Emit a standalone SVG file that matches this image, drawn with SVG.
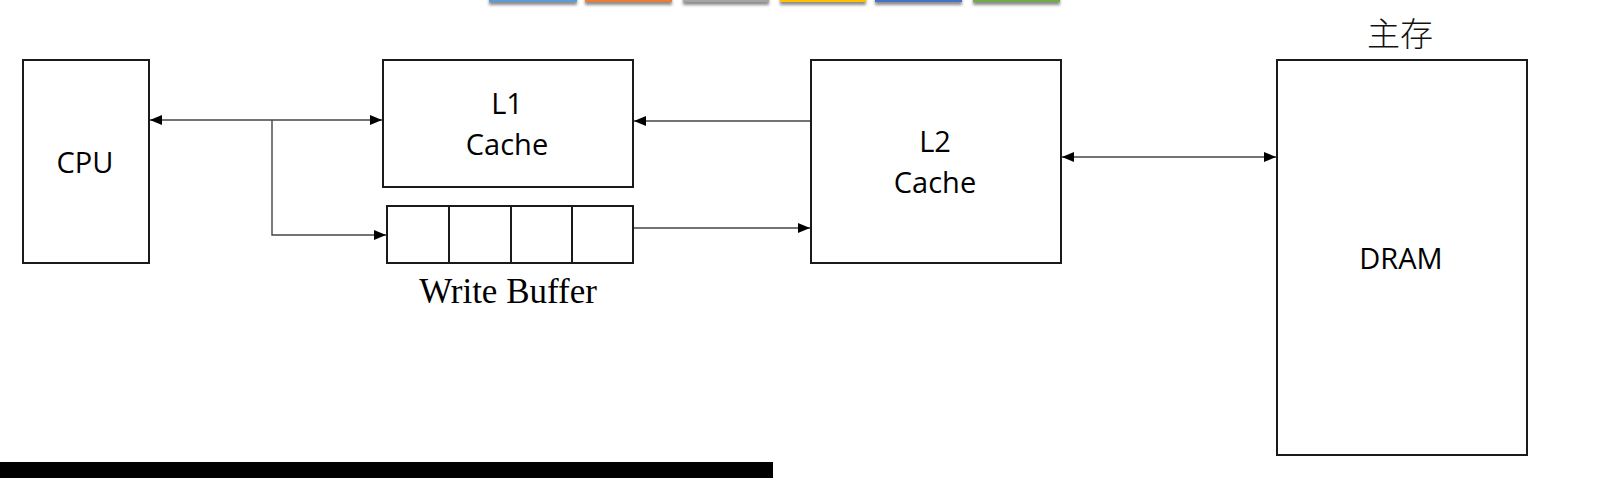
<svg xmlns="http://www.w3.org/2000/svg" width="1617" height="478" viewBox="0 0 1617 478">
  <style>
    .box { fill: #ffffff; stroke: #1a1a1a; stroke-width: 2; }
    .lbl { font-family: "Open Sans", "Liberation Sans", sans-serif; font-size: 29px; font-weight: 500; fill: #000; text-anchor: middle; }
    .wb { font-family: "Liberation Serif", serif; font-size: 35px; fill: #000; text-anchor: middle; }
    .cjk { font-family: "Noto Sans CJK SC", sans-serif; font-size: 33px; font-weight: 300; fill: #111; text-anchor: middle; }
    .conn { fill: none; stroke: #444; stroke-width: 1.4; }
  </style>
  <defs>
    <marker id="arr" viewBox="0 0 12 10" refX="12" refY="5" markerWidth="12" markerHeight="10" markerUnits="userSpaceOnUse" orient="auto-start-reverse">
      <path d="M0,0 L12,5 L0,10 z" fill="#000"/>
    </marker>
    <filter id="sh" x="-10%" y="-50%" width="120%" height="400%">
      <feGaussianBlur in="SourceAlpha" stdDeviation="1.5"/>
      <feOffset dy="2.5" result="b"/>
      <feFlood flood-color="#000" flood-opacity="0.45"/>
      <feComposite in2="b" operator="in"/>
      <feMerge><feMergeNode/><feMergeNode in="SourceGraphic"/></feMerge>
    </filter>
  </defs>
  <rect width="1617" height="478" fill="#ffffff"/>

  <g id="tabs" filter="url(#sh)">
    <rect x="489" y="-4" width="88" height="6" fill="#5B9BD5"/>
    <rect x="585" y="-4" width="87" height="6" fill="#ED7D31"/>
    <rect x="683" y="-4" width="86" height="6" fill="#A5A5A5"/>
    <rect x="780" y="-4" width="86" height="6" fill="#FFC000"/>
    <rect x="875" y="-4" width="87" height="6" fill="#4472C4"/>
    <rect x="973" y="-4" width="87" height="6" fill="#70AD47"/>
  </g>

  <g id="cpu">
    <rect class="box" x="23" y="60" width="126" height="203"/>
    <text class="lbl" x="85" y="173">CPU</text>
  </g>

  <g id="l1">
    <rect class="box" x="383" y="60" width="250" height="127"/>
    <text class="lbl" x="507" y="114">L1</text>
    <text class="lbl" x="507" y="155">Cache</text>
  </g>

  <g id="writebuffer">
    <rect class="box" x="387" y="206" width="246" height="57"/>
    <line x1="449" y1="206" x2="449" y2="263" stroke="#1a1a1a" stroke-width="2"/>
    <line x1="511" y1="206" x2="511" y2="263" stroke="#1a1a1a" stroke-width="2"/>
    <line x1="572" y1="206" x2="572" y2="263" stroke="#1a1a1a" stroke-width="2"/>
    <text class="wb" x="508" y="303">Write Buffer</text>
  </g>

  <g id="l2">
    <rect class="box" x="811" y="60" width="250" height="203"/>
    <text class="lbl" x="935" y="152">L2</text>
    <text class="lbl" x="935" y="193">Cache</text>
  </g>

  <g id="dram">
    <text class="cjk" x="1400" y="46">主存</text>
    <rect class="box" x="1277" y="60" width="250" height="395"/>
    <text class="lbl" x="1401" y="269">DRAM</text>
  </g>

  <g id="connectors">
    <line class="conn" x1="150" y1="120" x2="382" y2="120" marker-start="url(#arr)" marker-end="url(#arr)"/>
    <path class="conn" d="M272,120 V235 H386" marker-end="url(#arr)"/>
    <line class="conn" x1="810" y1="121" x2="634" y2="121" marker-end="url(#arr)"/>
    <line class="conn" x1="634" y1="228" x2="810" y2="228" marker-end="url(#arr)"/>
    <line class="conn" x1="1062" y1="157" x2="1276" y2="157" marker-start="url(#arr)" marker-end="url(#arr)"/>
  </g>

  <rect id="bottombar" x="0" y="462" width="773" height="16" fill="#000"/>
</svg>
